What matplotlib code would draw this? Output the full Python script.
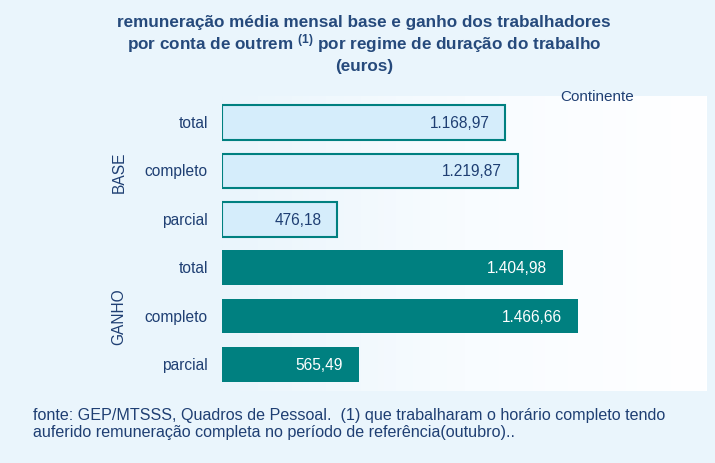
import matplotlib.pyplot as plt
import numpy as np
from matplotlib.colors import LinearSegmentedColormap

plt.rcParams['font.family'] = ['Liberation Sans', 'DejaVu Sans']
plt.rcParams['mathtext.fontset'] = 'custom'
plt.rcParams['mathtext.rm'] = 'Liberation Sans:bold'
plt.rcParams['mathtext.default'] = 'rm'

# data
groups = ["BASE", "GANHO"]
categories = ["total", "completo", "parcial"]
base_values = [1168.97, 1219.87, 476.18]
ganho_values = [1404.98, 1466.66, 565.49]

bg = "#eaf5fc"
teal = "#008080"
light = "#d5edfb"
txt = "#1f3f73"

fig = plt.figure(figsize=(7.15, 4.64), dpi=100)
fig.patch.set_facecolor(bg)
ax = fig.add_axes([222/715, 1-392/464, 485/715, 295/464])

# gradient background of the plot area
cmap = LinearSegmentedColormap.from_list("g", [bg, "#f8fcff", "white"])
grad = np.linspace(0, 1, 256).reshape(1, -1)
ax.imshow(grad, cmap=cmap, aspect="auto", extent=[0, 2000, 5.55, -0.55], zorder=0)

ypos = np.arange(6)
vals = base_values + ganho_values
labels = categories + categories
for i, v in enumerate(vals):
    if i < 3:
        ax.barh(ypos[i], v, height=0.72, color=light, edgecolor=teal, linewidth=1.5, zorder=2)
        c = txt
    else:
        ax.barh(ypos[i], v, height=0.72, color=teal, edgecolor=teal, linewidth=0, zorder=2)
        c = "white"
    s = f"{v:,.2f}".replace(",", "X").replace(".", ",").replace("X", ".")
    ax.text(v - 66, ypos[i], s, ha="right", va="center", fontsize=11.2, color=c, zorder=3)
    ax.text(-58, ypos[i], labels[i], ha="right", va="center", fontsize=11.2, color=txt,
            clip_on=False)

ax.text(-425, 1, groups[0], rotation=90, ha="center", va="center", fontsize=11.2, color=txt)
ax.text(-425, 4, groups[1], rotation=90, ha="center", va="center", fontsize=11.2, color=txt)

ax.set_xlim(0, 2000)
ax.set_ylim(5.55, -0.55)
ax.axis("off")

fig.text(597/715, 1-97/464, "Continente", ha="center", va="center", fontsize=11, color=txt)

title_kw = dict(ha="center", va="center", fontsize=12.3, fontweight="bold", color="#264a7c")
fig.text(364/715, 1-22/464, "remuneração média mensal base e ganho dos trabalhadores", **title_kw)
fig.text(364/715, 1-44/464, r"por conta de outrem $^{(1)}$ por regime de duração do trabalho", **title_kw)
fig.text(364/715, 1-66/464, "(euros)", **title_kw)

fig.text(33/715, 1-424/464,
         "fonte: GEP/MTSSS, Quadros de Pessoal.  (1) que trabalharam o horário completo tendo\n"
         "auferido remuneração completa no período de referência(outubro)..",
         ha="left", va="center", fontsize=11.6, color=txt, linespacing=1.22)

plt.savefig("out.png", dpi=100, facecolor=bg)
